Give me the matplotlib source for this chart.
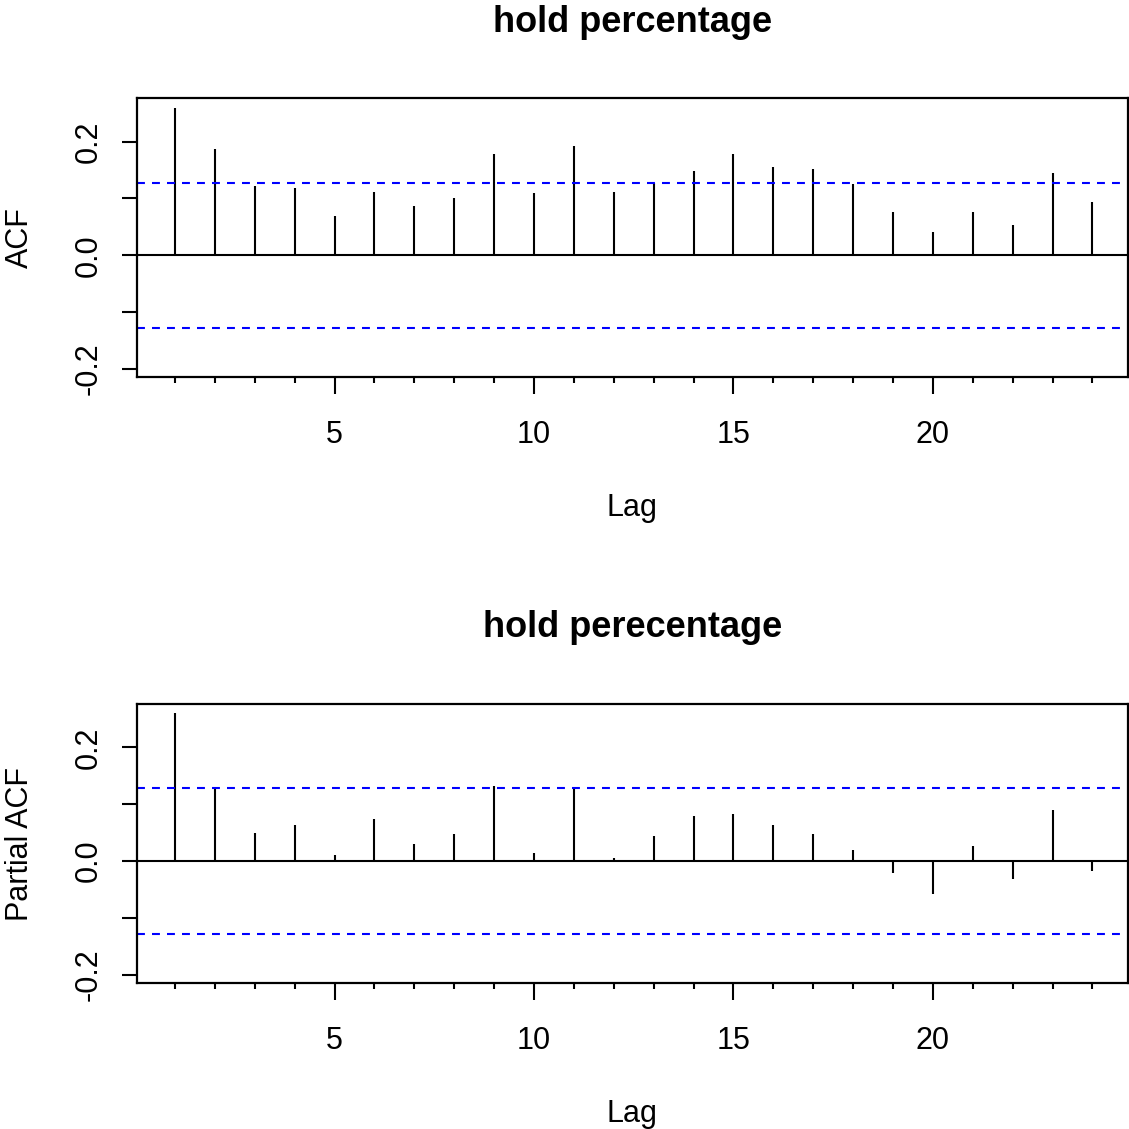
import matplotlib
matplotlib.use("Agg")
import matplotlib.pyplot as plt
import numpy as np

plt.rcParams['font.family'] = ['Liberation Sans', 'DejaVu Sans']

lags = list(range(1, 25))
acf_vals = [0.259, 0.188, 0.122, 0.119, 0.070, 0.112, 0.086, 0.100, 0.178, 0.109,
            0.192, 0.112, 0.128, 0.148, 0.178, 0.155, 0.152, 0.126, 0.076, 0.041,
            0.076, 0.054, 0.145, 0.093]
pacf_vals = [0.260, 0.127, 0.050, 0.063, 0.011, 0.074, 0.030, 0.048, 0.132, 0.015,
             0.127, 0.005, 0.044, 0.079, 0.083, 0.063, 0.048, 0.020, -0.021, -0.057,
             0.027, -0.031, 0.090, -0.017]
ci = 0.128
titles = ["hold percentage", "hold perecentage"]
ylabels = ["ACF", "Partial ACF"]
xticks_major = [5, 10, 15, 20]
yticks = [-0.2, -0.1, 0.0, 0.1, 0.2]
ytick_labels = ["-0.2", "", "0.0", "", "0.2"]

W = 1129.0
fig = plt.figure(figsize=(11.29, 11.29), dpi=100)

def px_rect(left, top, right, bottom):
    return [left / W, 1 - bottom / W, (right - left) / W, (bottom - top) / W]

rects = [px_rect(137.3, 98.3, 1127.5, 377.3), px_rect(137.3, 704.0, 1127.5, 983.3)]
series = [acf_vals, pacf_vals]

FS = 22
for rect, vals, title, ylab in zip(rects, series, titles, ylabels):
    ax = fig.add_axes(rect)
    ax.vlines(lags, 0, vals, color='black', lw=1.5)
    ax.axhline(0, color='black', lw=1.5)
    for c in (ci, -ci):
        ax.axhline(c, color='#0000FF', lw=1.5, linestyle=(0, (3.8, 3.4)))
    ax.set_xlim(0.054, 24.88)
    ax.set_ylim(-0.2150, 0.2765)
    ax.set_xticks(xticks_major)
    ax.set_xticklabels([str(t) for t in xticks_major])
    ax.set_xticks(lags, minor=True)
    ax.set_yticks(yticks)
    ax.set_yticklabels(ytick_labels)
    for s in ax.spines.values():
        s.set_linewidth(1.6)
    ax.tick_params(axis='x', which='major', length=12, width=1.5, pad=19, labelsize=FS)
    ax.tick_params(axis='x', which='minor', length=4, width=1.5)
    ax.tick_params(axis='y', which='major', length=11, width=1.5, pad=13,
                   labelsize=FS, labelrotation=90)
    for lab in ax.get_yticklabels():
        lab.set_verticalalignment('center')
    ax.set_title(title, fontsize=26, fontweight='bold', pad=48)
    ax.set_xlabel("Lag", fontsize=FS)
    ax.xaxis.set_label_coords(0.5, -0.4147)
    ax.set_ylabel(ylab, fontsize=FS)
    ax.yaxis.set_label_coords(-0.1038, 0.5)

fig.savefig("out.png", dpi=100)
